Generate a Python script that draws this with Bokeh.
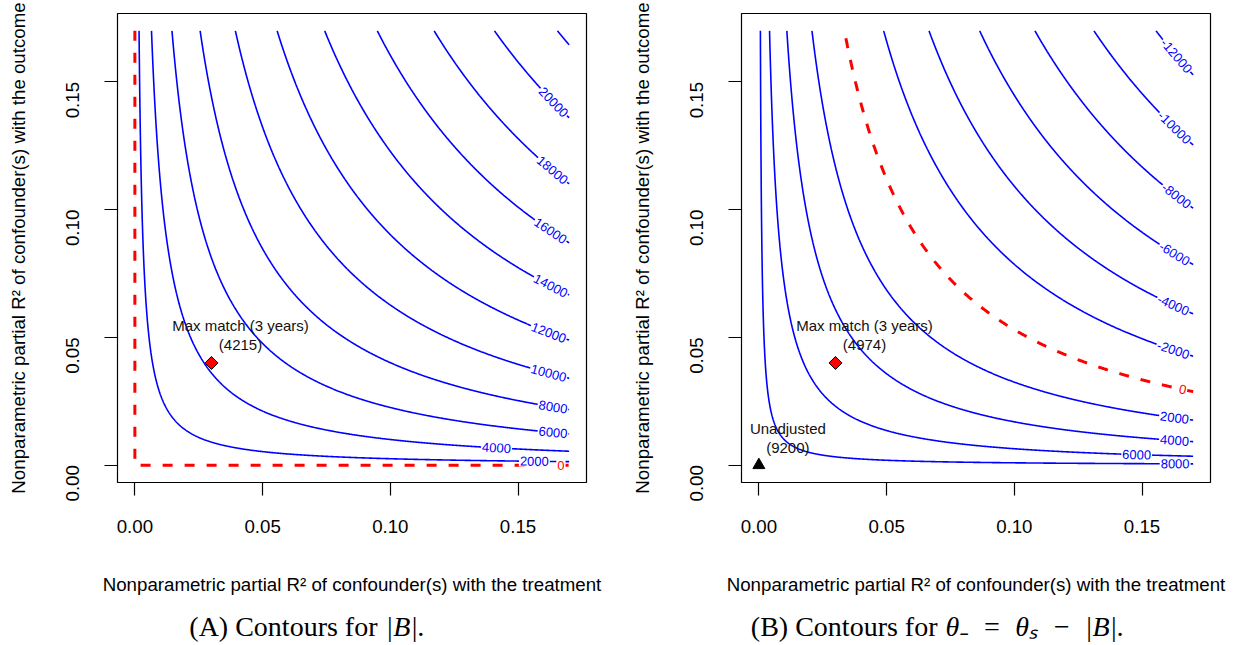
import math
import numpy as np
import contourpy
from bokeh.plotting import figure
from bokeh.layouts import column, row
from bokeh.models import Range1d, FixedTicker, NumeralTickFormatter, ColumnDataSource
from bokeh.core.properties import value
from bokeh.embed import file_html
from bokeh.resources import INLINE

# ---------------- data ----------------
r2_max = 0.17                                   # grid of partial R^2 values
tick_values = [0.00, 0.05, 0.10, 0.15]
tick_labels = ["0.00", "0.05", "0.10", "0.15"]

levels_bias = [2000, 4000, 6000, 8000, 10000, 12000, 14000, 16000, 18000, 20000, 22000]
levels_theta = [8000, 6000, 4000, 2000, -2000, -4000, -6000, -8000, -10000, -12000]
zero_level = 0

theta_s = 9200                                  # unadjusted estimate
point_r2d = [0.03]                              # "Max match (3 years)"
point_r2y = [0.04]
point_bias = 4215
point_theta = 4974
unadj_r2d = [0.0]
unadj_r2y = [0.0]

x_title = "Nonparametric partial R\u00b2 of confounder(s) with the treatment"
y_title = "Nonparametric partial R\u00b2 of confounder(s) with the outcome"
caption_a = ["(A) Contours for", "|B|."]
caption_b = ["(B) Contours for", "\u03b8\u208b\u2002=\u2002\u03b8\u209b\u2002\u2212\u2002|B|."]

# ---------------- field: |B| = S * sqrt(R2y * R2d / (1 - R2d)) ----------------
S = point_bias / math.sqrt(point_r2y[0] * point_r2d[0] / (1 - point_r2d[0]))
grid = np.linspace(0.0, r2_max, 701)
GX, GY = np.meshgrid(grid, grid)
bias = S * np.sqrt(GY * GX / (1 - GX))
theta = theta_s - bias

# ---------------- layout / style ----------------
FRAME_W, FRAME_H = 469, 469
pad = 0.04 * r2_max
xr = (-pad, r2_max + pad)
yr = (-pad, r2_max + pad)
SANS = "Liberation Sans"
SERIF = "Liberation Serif"
BLUE = "#0000FF"
RED = "#FF0000"

left_label_x = {2000: 0.1564, 4000: 0.1416, 6000: 0.1636, 8000: 0.1636, 10000: 0.1620,
                12000: 0.1620, 14000: 0.1628, 16000: 0.1628, 18000: 0.1634, 20000: 0.1639}
right_label_x = {8000: 0.1630, 6000: 0.1478, 4000: 0.1628, 2000: 0.1628,
                 -2000: 0.1622, -4000: 0.1622, -6000: 0.1628, -8000: 0.1634,
                 -10000: 0.1628, -12000: 0.1634}
right_zero_x = 0.1659
left_zero_x = 0.1668


def contour_lines(field, levels):
    gen = contourpy.contour_generator(grid, grid, field, line_type="Separate")
    out = {}
    for lev in levels:
        out[lev] = [np.asarray(s) for s in gen.lines(lev) if len(s) > 1]
    return out


def label_positions(lines, targets):
    kx = FRAME_W / (xr[1] - xr[0])
    ky = FRAME_H / (yr[1] - yr[0])
    X, Y, T, A = [], [], [], []
    for lev, tx in targets.items():
        best = None
        for s in lines.get(lev, []):
            d = np.abs(s[:, 0] - tx)
            i = int(np.argmin(d))
            if best is None or d[i] < best[0]:
                best = (d[i], s, i)
        if best is None:
            continue
        _, s, i = best
        cx, cy = s[i]
        dist = np.hypot((s[:, 0] - cx) * kx, (s[:, 1] - cy) * ky)
        idx = np.where(dist < 16)[0]
        j0, j1 = idx.min(), idx.max()
        ang = math.atan2((s[j1, 1] - s[j0, 1]) * ky, (s[j1, 0] - s[j0, 0]) * kx)
        if ang > math.pi / 2:
            ang -= math.pi
        if ang < -math.pi / 2:
            ang += math.pi
        X.append(cx); Y.append(cy); T.append(str(lev)); A.append(ang)
    return dict(x=X, y=Y, text=T, angle=A)


def make_panel(width, left_border, right_border):
    p = figure(width=width, height=598, output_backend="svg", toolbar_location=None,
               x_range=Range1d(*xr), y_range=Range1d(*yr),
               min_border_left=left_border, min_border_right=right_border,
               min_border_top=13, min_border_bottom=116,
               background_fill_color="white", border_fill_color="white")
    p.outline_line_color = "black"
    p.outline_line_width = 1.2
    p.xgrid.visible = False
    p.ygrid.visible = False
    overrides = {v: l for v, l in zip(tick_values, tick_labels)}
    for ax in (p.xaxis[0], p.yaxis[0]):
        ax.ticker = FixedTicker(ticks=tick_values)
        ax.formatter = NumeralTickFormatter(format="0.00")
        ax.major_label_overrides = overrides
        ax.axis_line_color = None
        ax.major_tick_out = 13
        ax.major_tick_in = 0
        ax.minor_tick_out = 0
        ax.minor_tick_in = 0
        ax.major_tick_line_color = "black"
        ax.major_tick_line_width = 1.2
        ax.major_label_text_font = SANS
        ax.major_label_text_font_size = "18.7px"
        ax.major_label_text_color = "black"
        ax.axis_label_text_font = SANS
        ax.axis_label_text_font_size = "18.7px"
        ax.axis_label_text_font_style = "normal"
        ax.axis_label_text_color = "black"
    p.xaxis.axis_label = x_title
    p.yaxis.axis_label = y_title
    p.xaxis.major_label_standoff = 24
    p.yaxis.major_label_standoff = 32
    p.xaxis.axis_label_standoff = 38
    p.yaxis.axis_label_standoff = 28
    p.yaxis.major_label_orientation = math.pi / 2
    return p


def draw_contours(p, lines, color, dash, width):
    xs, ys = [], []
    for lev, segs in lines.items():
        for s in segs:
            xs.append(s[:, 0]); ys.append(s[:, 1])
    p.multi_line(xs, ys, line_color=color, line_width=width, line_dash=dash)


def draw_labels(p, lines, targets, color):
    src = ColumnDataSource(label_positions(lines, targets))
    p.text("x", "y", text="text", angle="angle", source=src, text_color=color,
           text_font=value(SANS), text_font_size="13px", text_align="center",
           text_baseline="middle", background_fill_color="white", padding=1)


def draw_point(p, px, py, lines_txt, marker, fill, size):
    p.text([px[0]] * 2, [py[0]] * 2, text=lines_txt, x_offset=29, y_offset=[-37, -18],
           text_font=value(SANS), text_font_size="15px", text_color="#111111",
           text_align="center", text_baseline="middle")
    if marker == "diamond":
        p.scatter(px, py, marker="square", angle=math.pi / 4, size=size,
                  fill_color=fill, line_color="black", line_width=1)
    else:
        p.scatter(px, py, marker=marker, size=size, fill_color=fill,
                  line_color="black", line_width=1)


# ---------------- panel A ----------------
pa = make_panel(624, 117, 38)
lines_a = contour_lines(bias, levels_bias)
pa.line([0, 0, r2_max], [r2_max, 0, 0], line_color=RED, line_width=3, line_dash="10 12")
draw_contours(pa, lines_a, BLUE, "solid", 1.6)
draw_labels(pa, lines_a, left_label_x, BLUE)
pa.text([left_zero_x], [0.0], text=[str(zero_level)], text_color=RED,
        text_font=value(SANS), text_font_size="13px", text_align="center",
        text_baseline="middle", background_fill_color="white", padding=1)
draw_point(pa, point_r2d, point_r2y, ["Max match (3 years)", f"({point_bias})"],
           "diamond", RED, 9.2)

# ---------------- panel B ----------------
pb = make_panel(605, 117, 19)
lines_b = contour_lines(theta, levels_theta)
lines_0 = contour_lines(theta, [zero_level])
draw_contours(pb, lines_0, RED, "10 12", 3)
draw_contours(pb, lines_b, BLUE, "solid", 1.6)
draw_labels(pb, lines_b, right_label_x, BLUE)
draw_labels(pb, lines_0, {zero_level: right_zero_x}, RED)
draw_point(pb, point_r2d, point_r2y, ["Max match (3 years)", f"({point_theta})"],
           "diamond", RED, 9.2)
draw_point(pb, unadj_r2d, unadj_r2y, ["Unadjusted", f"({theta_s})"], "triangle", "black", 12)

# ---------------- captions ----------------
CAP_H = 44
pc = figure(width=1229, height=CAP_H, output_backend="svg", toolbar_location=None,
            x_range=Range1d(0, 1229), y_range=Range1d(0, CAP_H),
            x_axis_type=None, y_axis_type=None, min_border=0,
            background_fill_color="white", border_fill_color="white")
pc.outline_line_color = None
pc.xgrid.visible = False
pc.ygrid.visible = False
pc.text([377, 937], [16, 16], text=[caption_a[0], caption_b[0]], text_font=value(SERIF),
        text_font_size="28px", text_color="black", text_align="right",
        text_baseline="middle")
pc.text([385, 945], [16, 16], text=[caption_a[1], caption_b[1]], text_font=value(SERIF),
        text_font_size="28px", text_font_style="italic", text_color="black",
        text_align="left", text_baseline="middle")

layout = column(row(pa, pb), pc)
open("out.html", "w").write(file_html(layout, INLINE))
